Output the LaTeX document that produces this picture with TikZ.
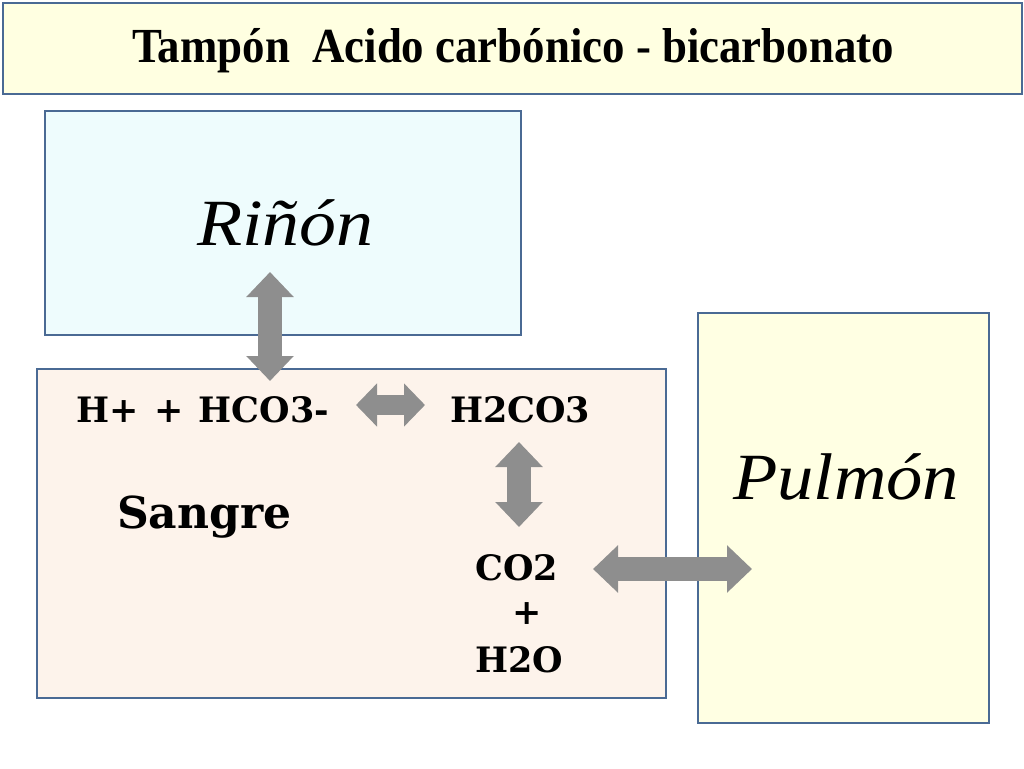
\documentclass[tikz,border=0pt]{standalone}
\usepackage{fontspec}
\setmainfont{Liberation Serif}
\newfontfamily\chemfont{DejaVu Serif}
\usetikzlibrary{arrows.meta,positioning}
\definecolor{edgeblue}{HTML}{4A6A94}
\definecolor{titlefill}{HTML}{FFFFE1}
\definecolor{kidneyfill}{HTML}{EEFCFD}
\definecolor{bloodfill}{HTML}{FDF3EB}
\definecolor{lungfill}{HTML}{FFFFE3}
\definecolor{arrowgray}{HTML}{8E8E8E}
\tikzset{
    %Define style for boxes
    organ/.style={
           rectangle,
           draw=edgeblue, line width=2.4pt,
           inner sep=0pt,
           anchor=north west},
    %Define style for formulas
    chem/.style={
           inner sep=0pt,
           anchor=base west,
           font=\chemfont\bfseries\fontsize{35}{38}\selectfont},
    organname/.style={
           inner sep=0pt,
           anchor=base west,
           font=\itshape\fontsize{66}{70}\selectfont},
    % Define arrow style
    flux/.style={
           draw=arrowgray,
           line width=24pt,
           {Triangle[width=46pt,length=25pt]}-{Triangle[width=46pt,length=25pt]}},
    smallflux/.style={
           draw=arrowgray,
           line width=20pt,
           {Triangle[width=42pt,length=21pt]}-{Triangle[width=42pt,length=21pt]}}
}
\begin{document}
\begin{tikzpicture}[x=1pt,y=-1pt]
\useasboundingbox (0,0) rectangle (1024,768);
\node[organ, fill=titlefill, minimum width=1019pt, minimum height=91pt](title) at (2,2){};
\node[inner sep=0pt, anchor=base, font=\bfseries\fontsize{49}{52}\selectfont] (titletext) at (513,63) {\scalebox{0.915}[1]{Tampón~ Acido carbónico - bicarbonato}};
\node[organ, fill=kidneyfill, minimum width=476pt, minimum height=224pt](kidney) at (44,110){};
\node[organ, fill=lungfill, minimum width=291pt, minimum height=410pt](lung) at (697,312){};
\node[organ, fill=bloodfill, minimum width=629pt, minimum height=329pt](blood) at (36,368){};
\node[organname](kidneyname) at (197,245){\scalebox{1.12}[1]{Riñón}};
\node[organname](lungname) at (733,499){\scalebox{1.1}[1]{Pulmón}};
\node[chem](acid) at (76,422){H+\hspace{16pt}+\hspace{15pt}HCO3-};
\node[chem](carbonic) at (450,422){H2CO3};
\node[chem, font=\chemfont\bfseries\fontsize{44}{48}\selectfont](bloodname) at (117,528){Sangre};
\node[chem](co2) at (475,580){CO2};
\node[chem, anchor=base](plus) at (527,624){+};
\node[chem](h2o) at (475,672){H2O};
\coordinate (kidneyend) at (270,272);
\coordinate (acidend) at (270,381);
\coordinate (acidright) at (356,405);
\coordinate (carbonicleft) at (425,405);
\coordinate (carbonicend) at (519,442);
\coordinate (co2top) at (519,527);
\coordinate (co2right) at (593,569);
\coordinate (lungend) at (752,569);
\path[flux] (kidneyend) -- (acidend);
\path[smallflux] (acidright) -- (carbonicleft);
\path[flux] (carbonicend) -- (co2top);
\path[flux] (co2right) -- (lungend);
\end{tikzpicture}
\end{document}
